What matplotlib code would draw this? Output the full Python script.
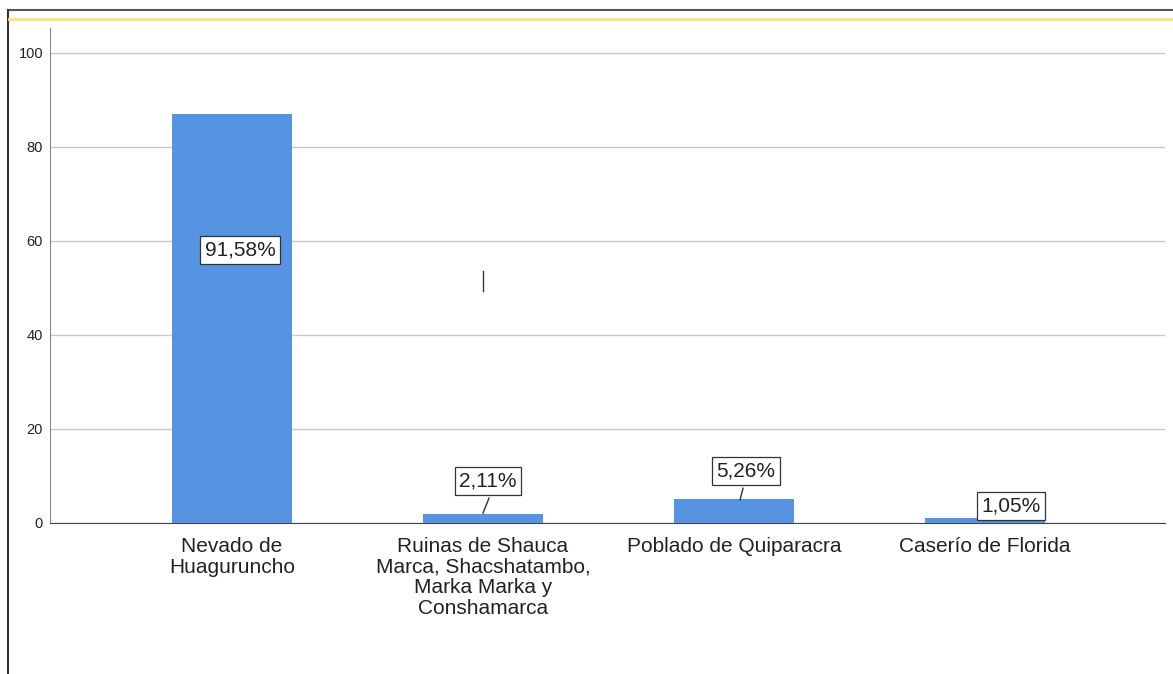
import matplotlib.pyplot as plt
from matplotlib.lines import Line2D

# data
categorias = ['Nevado de\nHuagurunchо'.replace('о', 'o'),
              'Ruinas de Shauca\nMarca, Shacshatambo,\nMarka Marka y\nConshamarca',
              'Poblado de Quiparacra',
              'Caserío de Florida']
frecuencias = [87, 2, 5, 1]
porcentajes = ['91,58%', '2,11%', '5,26%', '1,05%']
yticks = [0, 20, 40, 60, 80, 100]

plt.rcParams['font.family'] = ['Liberation Sans', 'DejaVu Sans']

fig = plt.figure(figsize=(11.73, 6.74), dpi=100)
W, H = 1173, 674
ax = fig.add_axes([50 / W, 1 - 523 / H, (1165 - 50) / W, (523 - 28) / H])

x = list(range(len(categorias)))
ax.bar(x, frecuencias, width=0.478, color='#5694e2', zorder=3)

ax.set_xlim(-0.725, 3.717)
ax.set_ylim(0, 105.3)
ax.set_yticks(yticks)
ax.set_yticklabels([str(v) for v in yticks], fontsize=10.5, color='#222222')
ax.set_xticks(x)
ax.set_xticklabels(categorias, fontsize=15, color='#222222', linespacing=1.12,
                   va='top')
ax.tick_params(axis='x', length=0, pad=10)
ax.tick_params(axis='y', length=0, pad=5)
ax.grid(axis='y', color='#c8c8c8', linewidth=1, zorder=0)
for s in ['top', 'right']:
    ax.spines[s].set_visible(False)
ax.spines['left'].set_color('#888888')
ax.spines['bottom'].set_color('#444444')

# etiquetas de porcentaje (posición del cuadro y del conector en coordenadas de datos)
pos_etiquetas = [(0.032, 58.1), (0.02, 8.9), (0.048, 11.1), (0.104, 3.6)]
conectores = [None, ((0, 2.1), (0.024, 5.3)), ((0.024, 4.9), (0.036, 7.4)), None]
for i, (dx, yy) in enumerate(pos_etiquetas):
    ax.text(i + dx, yy, porcentajes[i], fontsize=15, color='#222222',
            ha='center', va='center', zorder=5,
            bbox=dict(boxstyle='square,pad=0.22', fc='white', ec='#333333', lw=0.9))
    if conectores[i] is not None:
        (x0, y0), (x1, y1) = conectores[i]
        ax.plot([i + x0, i + x1], [y0, y1], color='#333333', lw=1, zorder=4)
# trazo suelto
ax.plot([1, 1], [49.4, 53.6], color='#333333', lw=1, zorder=4)

# marco exterior
fig.add_artist(Line2D([8 / W, 1], [1 - 10 / H, 1 - 10 / H], color='#555555', lw=1.5))
fig.add_artist(Line2D([8 / W, 8 / W], [0, 1 - 10 / H], color='#333333', lw=1.5))
fig.add_artist(Line2D([9 / W, 1], [1 - 19 / H, 1 - 19 / H], color='#ffe27a', lw=2))

fig.savefig('out.png', dpi=100)
